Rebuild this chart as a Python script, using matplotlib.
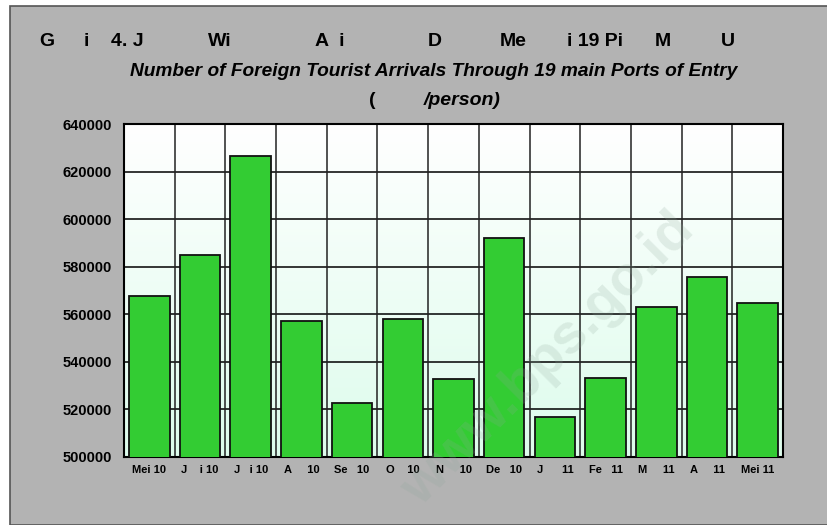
import matplotlib
matplotlib.use("Agg")
from matplotlib import pyplot as plt
from matplotlib.patches import Rectangle
import numpy as np

# Data
bulan = ['Mei 10', 'J    i 10', 'J   i 10', 'A     10', 'Se   10', 'O    10', 'N     10',
         'De   10', 'J      11', 'Fe   11', 'M     11', 'A     11', 'Mei 11']
wisman = [567500, 585000, 626500, 557000, 522700, 558000, 532800,
          592200, 516800, 533300, 563200, 575500, 564700]
yticks = [500000, 520000, 540000, 560000, 580000, 600000, 620000, 640000]

# Judul yang glyph-nya hilang (seperti di sumber): (teks, posisi x dalam piksel)
judul_potongan = [('G', 47), ('i', 86), ('4. J', 127), ('Wi', 220), ('A  i', 330),
                  ('D', 435), ('Me', 513), ('i 19 Pi', 595), ('M', 663), ('U', 728)]

W, H = 827, 525
plt.rcParams['font.family'] = ['Liberation Sans', 'DejaVu Sans']

fig = plt.figure(figsize=(W / 100, H / 100), dpi=100, facecolor='white')

# latar abu-abu dengan garis tepi
fig.patches.append(Rectangle((9.5 / W, 0), 1, 1 - 5.5 / H, transform=fig.transFigure,
                             facecolor='#b3b3b3', edgecolor='#555555', lw=1.2, zorder=-10))

ax = fig.add_axes([124 / W, 1 - 457 / H, (783 - 124) / W, (457 - 124) / H])

n = len(bulan)
x = np.arange(n)

# gradien latar plot (putih di atas, hijau muda di bawah)
grad = np.linspace(0, 1, 256).reshape(-1, 1)
cmap = matplotlib.colors.LinearSegmentedColormap.from_list('g', ['#ddfcec', '#ffffff'])
ax.imshow(grad, cmap=cmap, aspect='auto', extent=[-0.5, n - 0.5, 500000, 640000],
          origin='lower', zorder=0)

ax.bar(x, wisman, width=0.8, color='#33cc33', edgecolor='#111111', lw=1.3, zorder=3)

# garis grid
for v in yticks[1:-1]:
    ax.axhline(v, color='black', lw=1.1, zorder=1)
for b in np.arange(n - 1) + 0.5:
    ax.axvline(b, color='#222222', lw=1.1, zorder=1)

ax.set_xlim(-0.5, n - 0.5)
ax.set_ylim(500000, 640000)
ax.set_yticks(yticks)
ax.set_yticklabels([str(v) for v in yticks], fontsize=10.5, fontweight='bold')
ax.set_xticks(x)
ax.set_xticklabels(bulan, fontsize=8, fontweight='bold')
ax.tick_params(axis='both', length=0, pad=6)
ax.tick_params(axis='y', pad=9)
for s in ax.spines.values():
    s.set_color('black')
    s.set_linewidth(1.5)

# watermark
fig.text(548 / W, 1 - 360 / H, 'www.bps.go.id', rotation=45, fontsize=40,
         fontweight='bold', color='#8fa89a', alpha=0.2, ha='center', va='center')

# judul
for teks, px in judul_potongan:
    fig.text(px / W, 1 - 42 / H, teks, fontsize=14, fontweight='bold',
             ha='center', va='center', color='black')
fig.text(434 / W, 1 - 71 / H, 'Number of Foreign Tourist Arrivals Through 19 main Ports of Entry',
         fontsize=13.8, fontweight='bold', style='italic', ha='center', va='center')
fig.text(372 / W, 1 - 101 / H, '(', fontsize=14, fontweight='bold', ha='center', va='center')
fig.text(462 / W, 1 - 101 / H, '/person)', fontsize=14, fontweight='bold', style='italic',
         ha='center', va='center')

fig.savefig('out.png', dpi=100, facecolor=fig.get_facecolor())
